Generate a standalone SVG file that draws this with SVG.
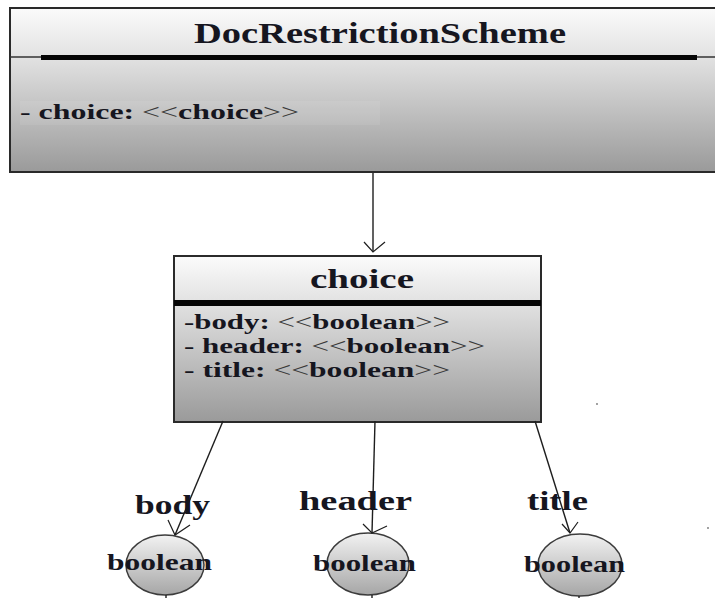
<svg xmlns="http://www.w3.org/2000/svg" width="715" height="598" viewBox="0 0 715 598">
  <style>
    .t { font-family: "Liberation Serif", "Times New Roman", serif; font-weight: bold; fill: #16161f; }
    .thin { font-weight: normal; fill: #3a3a3a; }
    .box { stroke: #2a2a2a; stroke-width: 2; }
    .edge { stroke: #1e1e1e; stroke-width: 1.4; fill: none; }
    .head { stroke: #1e1e1e; stroke-width: 1.2; fill: none; }
    .circ { fill: url(#ballGrad); stroke: #3c3c3c; stroke-width: 1.5; }
  </style>
  <defs>
    <linearGradient id="headGrad" x1="0" y1="0" x2="0" y2="1">
      <stop offset="0" stop-color="#fbfbfb"/>
      <stop offset="1" stop-color="#e2e2e2"/>
    </linearGradient>
    <linearGradient id="bodyGrad" x1="0" y1="0" x2="0" y2="1">
      <stop offset="0" stop-color="#e2e2e2"/>
      <stop offset="1" stop-color="#9a9a9a"/>
    </linearGradient>
    <linearGradient id="ballGrad" x1="0" y1="0" x2="0" y2="1">
      <stop offset="0" stop-color="#f2f2f2"/>
      <stop offset="1" stop-color="#a6a6a6"/>
    </linearGradient>
  </defs>

  <rect width="715" height="598" fill="#ffffff"/>

  <!-- DocRestrictionScheme class -->
  <g id="node-docrestrictionscheme">
    <rect x="10" y="8" width="720" height="49" fill="url(#headGrad)"/>
    <rect x="10" y="57" width="720" height="115" fill="url(#bodyGrad)"/>
    <rect x="20" y="101" width="360" height="24" fill="#ffffff" opacity="0.08"/>
    <rect x="10" y="8" width="720" height="164" fill="none" class="box"/>
    <line x1="10" y1="57" x2="715" y2="57" stroke="#333" stroke-width="1.5"/>
    <rect x="41" y="55" width="656" height="5" fill="#050505"/>
    <text class="t" x="194" y="43" font-size="30" textLength="372" lengthAdjust="spacingAndGlyphs">DocRestrictionScheme</text>
    <text class="t" x="20" y="119" font-size="21" textLength="279" lengthAdjust="spacingAndGlyphs">- choice: <tspan class="thin">&lt;&lt;</tspan>choice<tspan class="thin">&gt;&gt;</tspan></text>
  </g>

  <!-- choice class -->
  <g id="node-choice">
    <rect x="174" y="256" width="367" height="46" fill="url(#headGrad)"/>
    <rect x="174" y="302" width="367" height="120" fill="url(#bodyGrad)"/>
    <rect x="174" y="256" width="367" height="166" fill="none" class="box" stroke="#111"/>
    <rect x="174" y="300" width="367" height="6" fill="#050505"/>
    <text class="t" x="310" y="288" font-size="28" textLength="104" lengthAdjust="spacingAndGlyphs">choice</text>
    <text class="t" x="184" y="329" font-size="22" textLength="266" lengthAdjust="spacingAndGlyphs">-body: <tspan class="thin">&lt;&lt;</tspan>boolean<tspan class="thin">&gt;&gt;</tspan></text>
    <text class="t" x="184" y="353" font-size="22" textLength="301" lengthAdjust="spacingAndGlyphs">- header: <tspan class="thin">&lt;&lt;</tspan>boolean<tspan class="thin">&gt;&gt;</tspan></text>
    <text class="t" x="184" y="377" font-size="22" textLength="266" lengthAdjust="spacingAndGlyphs">- title: <tspan class="thin">&lt;&lt;</tspan>boolean<tspan class="thin">&gt;&gt;</tspan></text>
  </g>

  <!-- boolean value nodes -->
  <g id="node-boolean-body">
    <ellipse class="circ" cx="165" cy="565" rx="39" ry="30"/>
    <text class="t" x="107" y="570" font-size="23" textLength="105" lengthAdjust="spacingAndGlyphs">boolean</text>
  </g>
  <g id="node-boolean-header">
    <ellipse class="circ" cx="368" cy="564" rx="41" ry="31"/>
    <text class="t" x="313" y="571" font-size="23" textLength="103" lengthAdjust="spacingAndGlyphs">boolean</text>
  </g>
  <g id="node-boolean-title">
    <ellipse class="circ" cx="580" cy="565" rx="42" ry="31"/>
    <text class="t" x="524" y="572" font-size="23" textLength="101" lengthAdjust="spacingAndGlyphs">boolean</text>
  </g>

  <!-- connectors -->
  <g id="connectors">
    <line class="edge" x1="373" y1="173" x2="373" y2="252"/>
    <polyline class="head" points="364,242 373,252 385,242"/>

    <line class="edge" x1="223" y1="421" x2="175" y2="535"/>
    <polyline class="head" points="168,520 175,535 190,525"/>

    <line class="edge" x1="375" y1="421" x2="372" y2="533"/>
    <polyline class="head" points="363,524 372,533 387,526"/>

    <line class="edge" x1="535" y1="421" x2="570" y2="533"/>
    <polyline class="head" points="562,524 570,533 578,522"/>

    <line class="edge" x1="166" y1="595" x2="166" y2="598"/>
    <line class="edge" x1="372" y1="595" x2="372" y2="598"/>
    <line class="edge" x1="579" y1="596" x2="579" y2="598"/>
  </g>

  <!-- edge labels -->
  <g id="labels">
    <text class="t" x="135" y="514" font-size="27" textLength="75" lengthAdjust="spacingAndGlyphs">body</text>
    <text class="t" x="299" y="510" font-size="27" textLength="113" lengthAdjust="spacingAndGlyphs">header</text>
    <text class="t" x="527" y="510" font-size="27" textLength="61" lengthAdjust="spacingAndGlyphs">title</text>
  </g>

  <!-- stray specks -->
  <circle cx="597" cy="404" r="0.9" fill="#777"/>
  <circle cx="708" cy="528" r="0.9" fill="#777"/>
</svg>
